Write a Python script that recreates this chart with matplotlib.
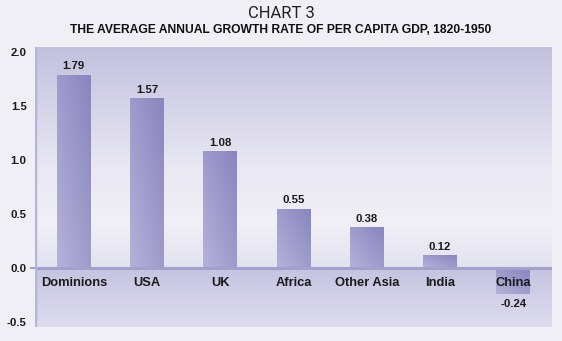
import matplotlib
matplotlib.use("Agg")
import matplotlib.pyplot as plt
import numpy as np
from matplotlib.colors import LinearSegmentedColormap

# Dados do gráfico
regions = ["Dominions", "USA", "UK", "Africa", "Other Asia", "India", "China"]
growth = [1.79, 1.57, 1.08, 0.55, 0.38, 0.12, -0.24]
yticks = [-0.5, 0.0, 0.5, 1.0, 1.5, 2.0]

fig_bg = "#f0eff6"
plt.rcParams["font.family"] = ["Liberation Sans", "DejaVu Sans"]

fig = plt.figure(figsize=(5.62, 3.41), dpi=100, facecolor=fig_bg)
ax = fig.add_axes([35 / 562, 14 / 341, 517 / 562, 280 / 341])
ax.set_facecolor(fig_bg)

x = np.arange(len(regions))
xmin, xmax = -0.53, len(regions) - 1 + 0.53
ymin, ymax = -0.546, 2.046
ax.set_xlim(xmin, xmax)
ax.set_ylim(ymin, ymax)

# Fundo em degradê: acima e abaixo do zero
top_cmap = LinearSegmentedColormap.from_list(
    "top", [(0.0, "#c3c0de"), (0.55, "#e9e8f3"), (0.8, "#f1f0f7"), (1.0, "#e2e1ef")])
grad = np.linspace(0, 1, 256).reshape(-1, 1)
ax.imshow(grad, cmap=top_cmap, aspect="auto", extent=(xmin, xmax, 0, ymax),
          origin="upper", zorder=0)
bot_cmap = LinearSegmentedColormap.from_list("bot", ["#dedcee", "#c6c3e1"])
ax.imshow(grad, cmap=bot_cmap, aspect="auto", extent=(xmin, xmax, ymin, 0),
          origin="lower", zorder=0)

# Barras com degradê diagonal
bar_cmap = LinearSegmentedColormap.from_list("bar", ["#b4b2d9", "#8985bf"])
gx, gy = np.meshgrid(np.linspace(0, 1, 64), np.linspace(0, 1, 64))
diag = (gx + gy) / 2
bars = ax.bar(x, growth, width=0.46, color="none", edgecolor="none", zorder=2)
for bar, val in zip(bars, growth):
    x0 = bar.get_x()
    x1 = x0 + bar.get_width()
    y0, y1 = min(0, val), max(0, val)
    im = ax.imshow(diag, cmap=bar_cmap, aspect="auto", extent=(x0, x1, y0, y1),
                   origin="lower", zorder=2)
    im.set_clip_path(bar)

# Linha do zero e eixo esquerdo
ax.axhline(0, color="#a3a0cd", lw=2.2, zorder=3)
ax.plot([-0.58, xmin], [0, 0], color="#a3a0cd", lw=1.5, clip_on=False, zorder=3)
ax.axvline(xmin, color="#b7b4d9", lw=2.5, zorder=3)

for s in ax.spines.values():
    s.set_visible(False)

# Rótulos de valores
for xi, val in zip(x, growth):
    if val >= 0:
        ax.text(xi, val + 0.03, f"{val:.2f}", ha="center", va="bottom",
                fontsize=8.2, fontweight="bold", color="#1a1a1a", zorder=4)
    else:
        ax.text(xi, val - 0.05, f"{val:.2f}", ha="center", va="top",
                fontsize=8.2, fontweight="bold", color="#1a1a1a", zorder=4)

# Rótulos das categorias
for xi, name in zip(x, regions):
    ax.text(xi, -0.14, name, ha="center", va="center", fontsize=9.3,
            fontweight="bold", color="#1a1a1a", zorder=4)

ax.set_xticks([])
ax.set_yticks(yticks)
ax.set_yticklabels([f"{v:.1f}" for v in yticks], fontsize=8.2, fontweight="bold",
                   color="#1a1a1a")
ax.tick_params(axis="y", length=0, pad=6)

fig.text(0.5, 327 / 341, "CHART 3", ha="center", va="center", fontsize=12,
         color="#222222", family=["Roboto", "DejaVu Sans"], fontweight="normal")
fig.text(0.5, 311 / 341, "THE AVERAGE ANNUAL GROWTH RATE OF PER CAPITA GDP, 1820-1950",
         ha="center", va="center", fontsize=8.7, fontweight="heavy", color="#111111")

fig.savefig("out.png", dpi=100, facecolor=fig_bg)
